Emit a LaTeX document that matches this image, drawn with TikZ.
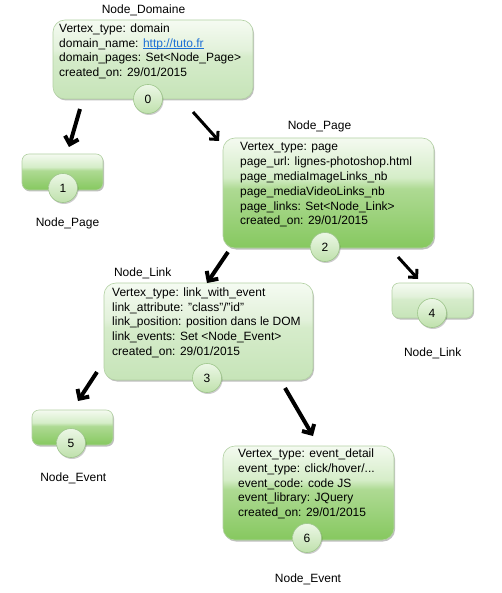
\documentclass[tikz,border=0pt]{standalone}
\usepackage{fontspec}
\setmainfont{Liberation Sans}
\usetikzlibrary{arrows.meta,shadows}
\definecolor{pT}{HTML}{F5FBF2}
\definecolor{pM}{HTML}{E2F1DA}
\definecolor{pL}{HTML}{D6ECCB}
\definecolor{pB}{HTML}{C6E4B8}
\definecolor{vT}{HTML}{F4FAF0}
\definecolor{vM}{HTML}{D5EDC8}
\definecolor{vL}{HTML}{AEDA93}
\definecolor{vB}{HTML}{86C85F}
\definecolor{cT}{HTML}{ECF7E6}
\definecolor{cB}{HTML}{BFE1AC}
\definecolor{boxline}{HTML}{B3D1A4}
\definecolor{circline}{HTML}{9DC58A}
\definecolor{linkblue}{HTML}{1C6FD6}
\newcommand\myul[1]{\setbox0\hbox{#1}\rlap{\rule[-1.7pt]{\wd0}{0.8pt}}\box0}
\pgfdeclareverticalshading{palegloss}{100bp}{color(0bp)=(pB); color(25bp)=(pB); color(52bp)=(pL); color(56bp)=(pM); color(75bp)=(pT); color(100bp)=(pT)}
\pgfdeclareverticalshading{vividgloss}{100bp}{color(0bp)=(vB); color(25bp)=(vB); color(52bp)=(vL); color(57bp)=(vM); color(75bp)=(vT); color(100bp)=(vT)}
\pgfdeclareverticalshading{circgloss}{100bp}{color(0bp)=(cB); color(25bp)=(cB); color(75bp)=(cT); color(100bp)=(cT)}
\tikzset{
  box/.style={draw=boxline, line width=0.6pt, rounded corners=12pt, inner sep=0pt, rectangle,
    drop shadow={shadow xshift=1pt, shadow yshift=-1.5pt, fill=black, opacity=0.25}},
  smallbox/.style={rounded corners=7pt},
  pale/.style={box, shade, shading=palegloss},
  vivid/.style={box, shade, shading=vividgloss},
  num/.style={circle, draw=circline, line width=0.6pt, shade, shading=circgloss, minimum size=29pt, inner sep=0pt,
    font=\fontsize{12}{12}\selectfont,
    drop shadow={shadow xshift=1pt, shadow yshift=-1.5pt, fill=black, opacity=0.2}},
  txt/.style={anchor=north west, align=left, inner sep=0pt, font=\fontsize{12}{14.8}\selectfont},
  lbl/.style={anchor=base, inner sep=0pt, font=\fontsize{12}{14}\selectfont},
  arrthick/.style={line width=4pt, -{Straight Barb[length=7pt,width=14pt]}},
  arrmed/.style={line width=3pt, -{Straight Barb[length=6pt,width=12pt]}},
}
\begin{document}
\begin{tikzpicture}[x=1pt,y=-1pt]
\useasboundingbox (0,0) rectangle (502,593);
\fill[white] (0,0) rectangle (502,593);

% boxes
\node[pale, minimum width=200pt, minimum height=79pt] (b0) at (153,59.5) {};
\node[vivid, smallbox, minimum width=81pt, minimum height=36pt] (b1) at (62.5,172) {};
\node[vivid, minimum width=211pt, minimum height=110pt] (b2) at (328.5,193) {};
\node[pale, minimum width=209pt, minimum height=97pt] (b3) at (208.5,331.5) {};
\node[pale, smallbox, minimum width=81pt, minimum height=35pt] (b4) at (432.5,300.5) {};
\node[vivid, smallbox, minimum width=81pt, minimum height=35pt] (b5) at (72.5,427.5) {};
\node[vivid, minimum width=171pt, minimum height=94pt] (b6) at (308.5,493) {};

% texts
\node[txt] (t0) at (59,23.5) {Vertex\_type: domain\\domain\_name: \textcolor{linkblue}{\myul{http://tuto.fr}}\\domain\_pages: Set<Node\_Page>\\created\_on: 29/01/2015};
\node[txt] (t2) at (240,142.5) {Vertex\_type: page\\page\_url: lignes-photoshop.html\\page\_mediaImageLinks\_nb\\page\_mediaVideoLinks\_nb\\page\_links: Set<Node\_Link>\\created\_on: 29/01/2015};
\node[txt] (t3) at (112,287.5) {Vertex\_type: link\_with\_event\\link\_attribute: {\char34}class{\char34}/{\char34}id{\char34}\\link\_position: position dans le DOM\\link\_events: Set <Node\_Event>\\created\_on: 29/01/2015};
\node[txt] (t6) at (238,448.5) {Vertex\_type: event\_detail\\event\_type: click/hover/...\\event\_code: code JS\\event\_library: JQuery\\created\_on: 29/01/2015};

% numbers
\node[num] (c0) at (148,99) {0};
\node[num] (c1) at (63,188) {1};
\node[num] (c2) at (325,247) {2};
\node[num] (c3) at (207,378) {3};
\node[num] (c4) at (432,313) {4};
\node[num] (c5) at (71,443) {5};
\node[num] (c6) at (307,538) {6};

% labels
\node[lbl] (l0) at (143.5,13.3) {Node\_Domaine};
\node[lbl] (l1) at (67.5,227) {Node\_Page};
\node[lbl] (l2) at (319.5,129.3) {Node\_Page};
\node[lbl] (l3) at (142.7,276) {Node\_Link};
\node[lbl] (l4) at (432.7,356) {Node\_Link};
\node[lbl] (l5) at (73.3,481.6) {Node\_Event};
\node[lbl] (l6) at (308,582) {Node\_Event};

% arrows
\coordinate (a01s) at (80,109);  \coordinate (a01e) at (69,147);
\coordinate (a02s) at (193,112); \coordinate (a02e) at (219,141);
\coordinate (a23s) at (228,252); \coordinate (a23e) at (207,283);
\coordinate (a24s) at (398,257); \coordinate (a24e) at (418,279);
\coordinate (a35s) at (97,372);  \coordinate (a35e) at (78,401);
\coordinate (a36s) at (285,388); \coordinate (a36e) at (313,436);
\draw[arrthick] (a01s) -- (a01e);
\draw[arrmed] (a02s) -- (a02e);
\draw[arrthick] (a23s) -- (a23e);
\draw[arrmed] (a24s) -- (a24e);
\draw[arrthick] (a35s) -- (a35e);
\draw[arrthick] (a36s) -- (a36e);
\end{tikzpicture}
\end{document}
